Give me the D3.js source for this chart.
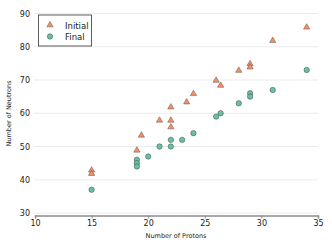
<!DOCTYPE html>
<html>
<head>
<meta charset="utf-8">
<script src="https://cdn.jsdelivr.net/npm/d3@7"></script>
<style>
body{margin:0;background:#fff;}
text{font-family:"DejaVu Sans",sans-serif;}
</style>
</head>
<body>
<div id="chart"></div>
<script>
// protons / neutrons before and after
var init_protons=[15,15,19,19.4,21,22,22,22,23.4,24,26,26.4,28,29,29,31,34];
var init_neutrons=[43,42,49,53.5,58,58,56,62,63.5,66,70,68.5,73,75,74,82,86];
var final_protons=[15,19,19,19,20,21,22,22,23,24,26,26.4,28,29,29,31,34];
var final_neutrons=[37,46,45,44,47,50,52,50,52,54,59,60,63,66,65,67,73];
var x_ticks=[10,15,20,25,30,35];
var y_ticks=[30,40,50,60,70,80,90];

var svg=d3.select("#chart").append("svg")
			.attr("width",332)
			.attr("height",249);

var x=d3.scaleLinear().domain([10,35]).range([35,318]);
var y=d3.scaleLinear().domain([30,90]).range([213,13.5]);

// grid
svg.selectAll(".grid").data(y_ticks).enter().append("line")
	.attr("x1",34).attr("x2",318)
	.attr("y1",function(d){return y(d);})
	.attr("y2",function(d){return y(d);})
	.attr("stroke","#ebebeb")
	.attr("stroke-width",1);

svg.selectAll(".ylab").data(y_ticks).enter().append("text")
	.attr("x",30).attr("y",function(d){return y(d)+3;})
	.attr("text-anchor","end")
	.attr("font-size",8)
	.attr("fill","#222")
	.text(function(d){return d;});

// bottom axis
var xAxis=d3.axisBottom(x).tickValues(x_ticks).tickSize(3).tickPadding(2);
var gx=svg.append("g").attr("transform","translate(0,215.5)").call(xAxis);
gx.select(".domain").attr("stroke","#8c8c8c").attr("stroke-width",1.5);
gx.selectAll(".tick line").attr("stroke","#8c8c8c");
gx.selectAll(".tick text").attr("font-size",8).attr("fill","#222")
	.attr("font-family","DejaVu Sans");

svg.append("text").attr("x",176).attr("y",238)
	.attr("text-anchor","middle").attr("font-size",6.5).attr("fill","#222")
	.text("Number of Protons");
svg.append("text").attr("transform","translate(11,113.5) rotate(-90)")
	.attr("text-anchor","middle").attr("font-size",6.5).attr("fill","#222")
	.text("Number of Neutrons");

var tri=d3.symbol().type(d3.symbolTriangle).size(17);
var init=init_protons.map(function(p,i){return [p,init_neutrons[i]];});
var fin=final_protons.map(function(p,i){return [p,final_neutrons[i]];});

svg.selectAll(".init").data(init).enter().append("path")
	.attr("d",tri)
	.attr("transform",function(d){return "translate("+x(d[0])+","+(y(d[1])+0.5)+")";})
	.attr("fill","#fc8d62")
	.attr("stroke","#555")
	.attr("stroke-width",0.5);

svg.selectAll(".fin").data(fin).enter().append("circle")
	.attr("cx",function(d){return x(d[0]);})
	.attr("cy",function(d){return y(d[1]);})
	.attr("r",2.7)
	.attr("fill","#66c2a5")
	.attr("stroke","#444")
	.attr("stroke-width",0.5);

// legend
var lg=svg.append("g");
lg.append("rect").attr("x",38.5).attr("y",15).attr("width",53).attr("height",31)
	.attr("fill","#fff").attr("stroke","#333").attr("stroke-width",0.8);
lg.append("path").attr("d",tri).attr("transform","translate(50,25)")
	.attr("fill","#fc8d62").attr("stroke","#555").attr("stroke-width",0.5);
lg.append("circle").attr("cx",50).attr("cy",36.5).attr("r",2.7)
	.attr("fill","#66c2a5").attr("stroke","#444").attr("stroke-width",0.5);
lg.append("text").attr("x",65).attr("y",28.5).attr("font-size",8.5).attr("fill","#222").text("Initial");
lg.append("text").attr("x",65).attr("y",40).attr("font-size",8.5).attr("fill","#222").text("Final");
</script>
</body>
</html>
